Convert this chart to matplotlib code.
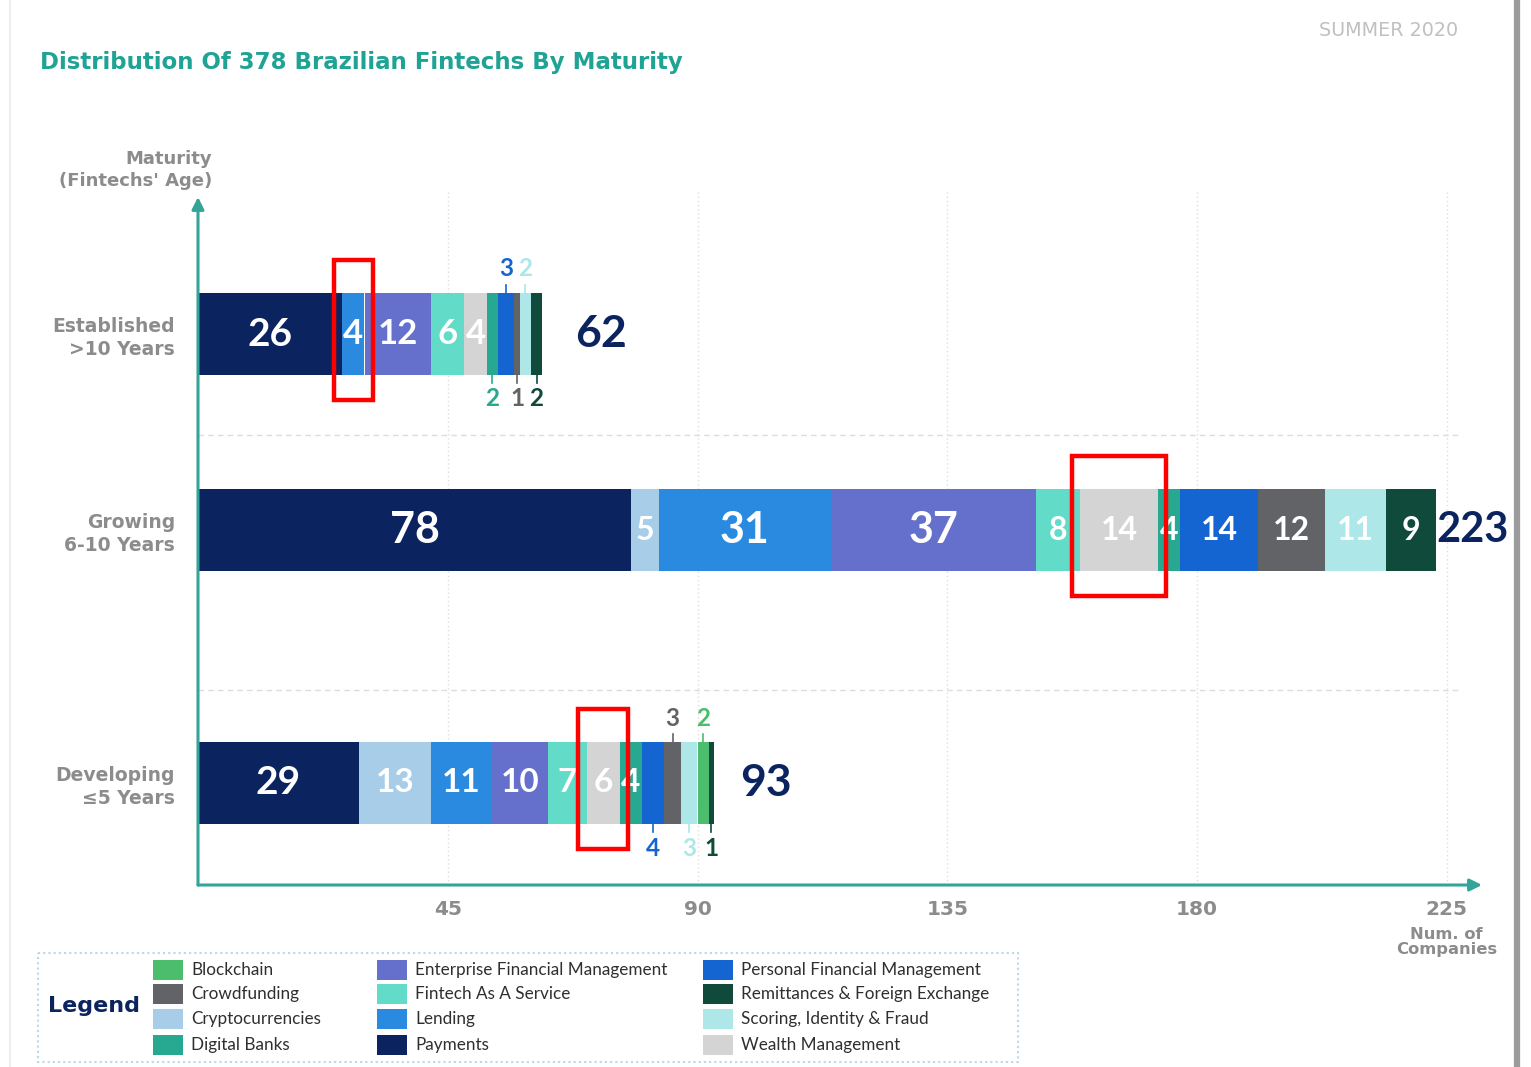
import matplotlib
matplotlib.use("Agg")
import matplotlib.pyplot as plt
from matplotlib.patches import Rectangle

# ---------------- data ----------------
title = "Distribution Of 378 Brazilian Fintechs By Maturity"
edition = "SUMMER 2020"

categories = ["Payments", "Cryptocurrencies", "Lending",
              "Enterprise Financial Management", "Fintech As A Service",
              "Wealth Management", "Digital Banks",
              "Personal Financial Management", "Crowdfunding",
              "Scoring, Identity & Fraud", "Blockchain",
              "Remittances & Foreign Exchange"]
colors = ["#0b2460", "#a8cde8", "#2a8ae0", "#6470cc", "#62dbc8", "#d4d4d4",
          "#27a991", "#1464d2", "#626367", "#ade7e8", "#4cbd6c", "#0f4a3b"]

maturity_names = ["Established", "Growing", "Developing"]
maturity_ranges = [">10 Years", "6-10 Years", "\u22645 Years"]

established = [26, 0, 4, 12, 6, 4, 2, 3, 1, 2, 0, 2]
growing = [78, 5, 31, 37, 8, 14, 4, 14, 12, 11, 0, 9]
developing = [29, 13, 11, 10, 7, 6, 4, 4, 3, 3, 2, 1]
series = [established, growing, developing]

x_ticks = [45, 90, 135, 180, 225]
x_axis_title = "Num. of\nCompanies"
y_axis_title = "Maturity\n(Fintechs' Age)"

legend_order = ["Blockchain", "Crowdfunding", "Cryptocurrencies", "Digital Banks",
                "Enterprise Financial Management", "Fintech As A Service",
                "Lending", "Payments",
                "Personal Financial Management", "Remittances & Foreign Exchange",
                "Scoring, Identity & Fraud", "Wealth Management"]

# labels shown outside the bar (above / below) for narrow segments
outside_labels = [
    {"Digital Banks": "below", "Personal Financial Management": "above",
     "Crowdfunding": "below", "Scoring, Identity & Fraud": "above",
     "Remittances & Foreign Exchange": "below"},
    {},
    {"Personal Financial Management": "below", "Crowdfunding": "above",
     "Scoring, Identity & Fraud": "below", "Blockchain": "above",
     "Remittances & Foreign Exchange": "below"},
]
highlighted = ["Lending", "Wealth Management", "Wealth Management"]

# ---------------- layout ----------------
W, H, DPI = 1531, 1067, 100
NUMF = "Lato"
TXTF = "DejaVu Sans"
TEAL = "#33a597"
GRAY = "#8c8c8c"
NAVY = "#0b2460"

fig = plt.figure(figsize=(W / DPI, H / DPI), dpi=DPI)
fig.patch.set_facecolor("white")

# pixel overlay for free text / legend
ov = fig.add_axes([0, 0, 1, 1])
ov.set_xlim(0, W)
ov.set_ylim(H, 0)
ov.axis("off")

# main plot axes: left edge at px 198, right (arrow tip) at 1482, bottom 885, top 197
X0, X1, Y0, Y1 = 198, 1482, 885, 197
PX_PER_UNIT = 5.55
ax = fig.add_axes([X0 / W, (H - Y0) / H, (X1 - X0) / W, (Y0 - Y1) / H])
ax.set_facecolor("none")
ax.set_xlim(0, (X1 - X0) / PX_PER_UNIT)
ax.set_ylim(0, (Y0 - Y1) / 100.0)
for s in ax.spines.values():
    s.set_visible(False)

y_pos = [5.51, 3.55, 1.02]
bar_h = 0.82

# grid
ax.vlines(x_ticks, 0, 6.95, colors="#dedede", linestyles=(0, (1, 2)), lw=1.0,
          clip_on=False, zorder=0)
for gy in [4.50, 1.95]:
    ax.hlines(gy, 0, 227.5, colors="#dcdcdc", linestyles=(0, (4, 3)), lw=1.0, zorder=0)

# axes arrows
ax.annotate("", xy=(1, 0), xytext=(0, 0), xycoords="axes fraction",
            arrowprops=dict(arrowstyle="-|>", color=TEAL, lw=2.2, mutation_scale=18,
                            shrinkA=0, shrinkB=0), annotation_clip=False)
ax.annotate("", xy=(0, 1), xytext=(0, 0), xycoords="axes fraction",
            arrowprops=dict(arrowstyle="-|>", color=TEAL, lw=2.2, mutation_scale=18,
                            shrinkA=0, shrinkB=0), annotation_clip=False)

size_rules = [(28, 25), (31, 23), (28, 24)]
total_gap = [6.0, 0.2, 4.7]
total_size = [32, 30, 32]

for bi, vals in enumerate(series):
    y = y_pos[bi]
    left = 0.0
    big, small = size_rules[bi]
    for ci, v in enumerate(vals):
        if v == 0:
            continue
        cat = categories[ci]
        ax.barh(y, v, left=left, height=bar_h, color=colors[ci], lw=0, zorder=2)
        cx = left + v / 2.0
        where = outside_labels[bi].get(cat)
        if where is None:
            fs = big if v >= 25 else small
            ax.text(cx, y, str(v), color="white", ha="center", va="center",
                    fontsize=fs, fontweight="bold", family=NUMF, zorder=3)
        else:
            sign = 1 if where == "above" else -1
            edge = y + sign * bar_h / 2
            ax.plot([cx, cx], [edge, edge + sign * 0.08], color=colors[ci], lw=1.2,
                    zorder=3, clip_on=False)
            ax.text(cx, edge + sign * 0.24, str(v), color=colors[ci], ha="center",
                    va="center", fontsize=17.5, fontweight="bold", family=NUMF,
                    zorder=3, clip_on=False)
        if cat == highlighted[bi]:
            ax.add_patch(Rectangle((left - 1.5, y - 0.66), v + 3.0, 1.40, fill=False,
                                   edgecolor="#ff0000", lw=3.2, zorder=5, clip_on=False))
        left += v
    ax.text(left + total_gap[bi], y, str(sum(vals)), color=NAVY, ha="left",
            va="center", fontsize=total_size[bi], fontweight="bold", family=NUMF,
            zorder=3, clip_on=False)

# ticks
ax.set_xticks(x_ticks)
ax.set_xticklabels([str(t) for t in x_ticks], fontsize=14.5, fontweight="bold",
                   color=GRAY, family=TXTF)
ax.tick_params(axis="x", length=0, pad=11)
ax.set_yticks(y_pos)
ax.set_yticklabels([f"{n}\n{r}" for n, r in zip(maturity_names, maturity_ranges)],
                   fontsize=13.5, fontweight="bold", color=GRAY, family=TXTF,
                   linespacing=1.25)
ax.tick_params(axis="y", length=0, pad=16.5)

ax.text(225, -0.57, x_axis_title, ha="center", va="center", fontsize=11.8,
        fontweight="bold", color=GRAY, family=TXTF, linespacing=1.0, clip_on=False)

# overlay texts
ov.text(40, 63, title, ha="left", va="center", fontsize=16.5, fontweight="bold",
        color="#1fa394", family=TXTF)
ov.text(1458, 31, edition, ha="right", va="center", fontsize=13.8,
        color="#c0c0c0", family=TXTF)
ov.text(212, 170, y_axis_title, ha="right", va="center", fontsize=13,
        fontweight="bold", color=GRAY, family=TXTF, linespacing=1.3)

# page edges
ov.plot([1517, 1517], [0, H], color="#9c9c9c", lw=4.5)
ov.plot([10, 10], [0, H], color="#eeeeee", lw=1.5)

# legend
ov.add_patch(Rectangle((38, 953), 980, 109, fill=False, edgecolor="#b9d8ea",
                       lw=1.5, linestyle=(0, (1, 1.5))))
ov.text(48, 1006, "Legend", ha="left", va="center", fontsize=16, fontweight="bold",
        color=NAVY, family=TXTF)
col_x = [153, 377, 703]
row_y = [970, 994, 1019, 1045]
for i, name in enumerate(legend_order):
    cx = col_x[i // 4]
    ry = row_y[i % 4]
    ov.add_patch(Rectangle((cx, ry - 10), 30, 20, facecolor=colors[categories.index(name)],
                           lw=0))
    ov.text(cx + 38, ry, name, ha="left", va="center", fontsize=12.3, color="#2f2f2f",
            family=NUMF)

fig.savefig("out.png", dpi=DPI, facecolor="white")
